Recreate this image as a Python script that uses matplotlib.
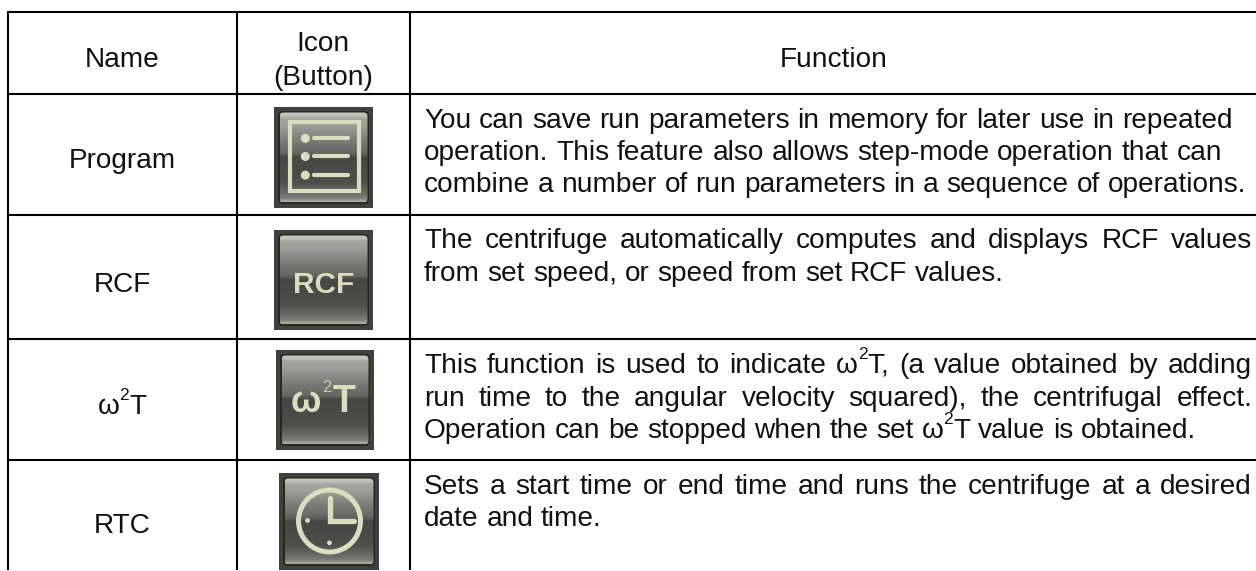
import matplotlib
matplotlib.use('Agg')
import matplotlib.pyplot as plt
import numpy as np
from matplotlib.font_manager import FontProperties
from matplotlib.patches import Circle, FancyBboxPatch, Rectangle

plt.rcParams['font.family'] = ['Liberation Sans', 'DejaVu Sans']

W, H = 1256, 571
FONT_PT = 20.2
SUP_PT = 12.5
TEXT_COLOR = '#111111'
CREAM = '#dcdcbe'

headers = ['Name', 'Icon', '(Button)', 'Function']
names = ['Program', 'RCF', 'ω^2T', 'RTC']
icon_kinds = ['list', 'rcf', 'omega', 'clock']

function_lines = [
    ['You can save run parameters in memory for later use in repeated',
     'operation. This feature also allows step-mode operation that can',
     'combine a number of run parameters in a sequence of operations.'],
    ['The centrifuge automatically computes and displays RCF values',
     'from set speed, or speed from set RCF values.'],
    ['This function is used to indicate ω^2T, (a value obtained by adding',
     'run time to the angular velocity squared), the centrifugal effect.',
     'Operation can be stopped when the set ω^2T value is obtained.'],
    ['Sets a start time or end time and runs the centrifuge at a desired',
     'date and time.'],
]
justified = [
    [False, False, False],
    [True, False],
    [True, True, False],
    [True, False],
]
baselines = [[128, 160, 192], [248, 281], [373, 405.5, 438], [494.5, 526.5]]

row_lines = [12, 94, 215, 339, 459.5]
col_lines = [8, 236.5, 409.5]
name_y = [168, 292, 414, 533]
header_pos = [(122, 67), (323, 51), (323, 85), (834, 67)]
icon_boxes = [(274, 107, 373, 208), (274, 230, 373, 330),
              (276, 350, 374, 450), (279, 473, 379, 570)]

grad_stops = [0.0, 0.03, 0.07, 0.14, 0.30, 0.46, 0.50, 0.78, 0.90, 0.96, 1.0]
grad_grey = [200, 195, 165, 160, 125, 100, 70, 78, 105, 125, 175]

fig = plt.figure(figsize=(W / 100, H / 100), dpi=100)
ax = fig.add_axes([0, 0, 1, 1])
ax.set_xlim(0, W)
ax.set_ylim(H, 0)
ax.axis('off')
renderer = fig.canvas.get_renderer()


def text_width(s, size):
    prop = FontProperties(family='Liberation Sans', size=size)
    return renderer.get_text_width_height_descent(s, prop, False)[0]


def split_sup(word):
    # 'ω^2T,' -> [('ω', False), ('2', True), ('T,', False)]
    if '^' not in word:
        return [(word, False)]
    a, b = word.split('^')
    return [(a, False), (b[0], True), (b[1:], False)]


def word_width(word):
    total = 0
    for s, sup in split_sup(word):
        total += text_width(s, SUP_PT if sup else FONT_PT)
    return total


def draw_word(x, y, word):
    for s, sup in split_sup(word):
        size = SUP_PT if sup else FONT_PT
        ax.text(x, y - (14 if sup else 0), s, fontsize=size, color=TEXT_COLOR,
                ha='left', va='baseline')
        x += text_width(s, size)


def draw_line(s, y, just, x0=424, x1=1252):
    words = s.split(' ')
    widths = [word_width(w) for w in words]
    gap = FONT_PT / 0.72 * 0.278
    if just:
        gap = (x1 - x0 - sum(widths)) / (len(words) - 1)
    x = x0
    for w, wd in zip(words, widths):
        draw_word(x, y, w)
        x += wd + gap


def draw_icon(box, kind):
    x0, y0, x1, y1 = box
    w, h = x1 - x0, y1 - y0
    ax.add_patch(Rectangle((x0, y0), w, h, fc='#404040', ec='none', zorder=2))
    pad = 4
    round_box = FancyBboxPatch((x0 + pad, y0 + pad), w - 2 * pad, h - 2 * pad,
                               boxstyle='round,pad=0,rounding_size=5',
                               fc='#2a2a12', ec='none', zorder=3)
    ax.add_patch(round_box)
    rim = 1.5
    inner = FancyBboxPatch((x0 + pad + rim, y0 + pad + rim), w - 2 * (pad + rim), h - 2 * (pad + rim),
                           boxstyle='round,pad=0,rounding_size=4',
                           fc='none', ec='none', zorder=4)
    ax.add_patch(inner)
    t = np.linspace(0, 1, 100)
    g = np.interp(t, grad_stops, grad_grey) / 255
    img = np.stack([g, g, g * 0.97], axis=1)[:, None, :]
    im = ax.imshow(img, extent=(x0 + pad + rim, x1 - pad - rim, y1 - pad - rim, y0 + pad + rim),
                   aspect='auto', zorder=4, interpolation='bilinear')
    im.set_clip_path(inner)

    def px(u):
        return x0 + u * w

    def py(v):
        return y0 + v * h

    if kind == 'list':
        ax.add_patch(Rectangle((px(.165), py(.15)), .69 * w, .68 * h, fc='none',
                               ec=CREAM, lw=3, zorder=5))
        for v in [.31, .49, .675]:
            ax.add_patch(Circle((px(.316), py(v)), 4.5, fc=CREAM, ec='none', zorder=5))
            ax.plot([px(.405), px(.75)], [py(v), py(v)], color=CREAM, lw=3,
                    solid_capstyle='round', zorder=5)
    elif kind == 'rcf':
        ax.text(px(.5), py(.55), 'RCF', fontsize=21.5, fontweight='bold', color=CREAM,
                ha='center', va='center', zorder=5)
    elif kind == 'omega':
        base = py(.62)
        ax.text(px(.30), base, 'ω', fontsize=26, fontweight='bold', color=CREAM,
                ha='center', va='baseline', zorder=5)
        ax.text(px(.52), py(.417), '2', fontsize=12, color='#c8c8b0',
                ha='center', va='baseline', zorder=5)
        ax.text(px(.69), base, 'T', fontsize=27, fontweight='bold', color=CREAM,
                ha='center', va='baseline', zorder=5)
    elif kind == 'clock':
        cx, cy = px(.505), py(.495)
        ax.add_patch(Circle((cx, cy), 31, fc='none', ec=CREAM, lw=3.6, zorder=5))
        ax.plot([cx, cx, px(.745)], [py(.26), cy, cy], color=CREAM, lw=3.8,
                solid_capstyle='round', solid_joinstyle='miter', zorder=5)
        ax.add_patch(Circle((px(.285), py(.49)), 2.4, fc=CREAM, ec='none', zorder=5))
        ax.add_patch(Circle((px(.505), py(.72)), 2.4, fc=CREAM, ec='none', zorder=5))


# grid, horizontal lines run off the right side of the image
for y in row_lines:
    ax.plot([col_lines[0] - 1, W], [y, y], color='black', lw=1.5, solid_capstyle='butt', zorder=1)
for x in col_lines:
    ax.plot([x, x], [row_lines[0], H - 1], color='black', lw=1.5, solid_capstyle='butt', zorder=1)

for label, (x, y) in zip(headers, header_pos):
    ax.text(x, y, label, fontsize=FONT_PT, color=TEXT_COLOR, ha='center', va='baseline')

for name, y in zip(names, name_y):
    draw_word(122 - word_width(name) / 2, y, name)

for box, kind in zip(icon_boxes, icon_kinds):
    draw_icon(box, kind)

for lines, flags, ys in zip(function_lines, justified, baselines):
    for s, just, y in zip(lines, flags, ys):
        draw_line(s, y, just)

ax.set_xlim(0, W)
ax.set_ylim(H, 0)
fig.savefig('out.png', dpi=100, facecolor='white')
